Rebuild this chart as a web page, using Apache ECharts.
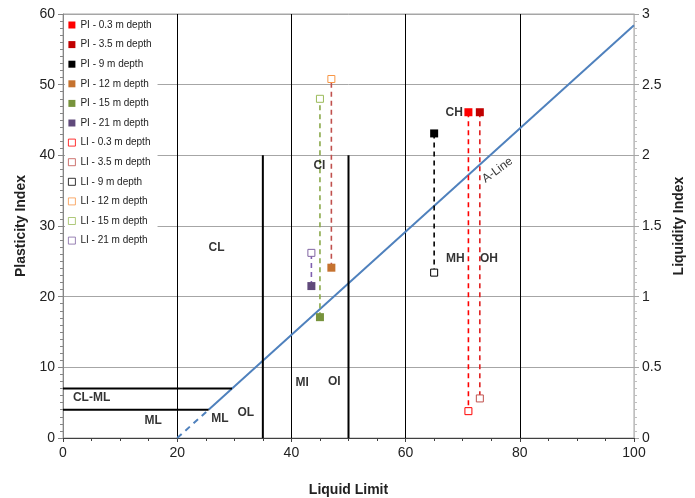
<!DOCTYPE html>
<html>
<head>
<meta charset="utf-8">
<script src="https://cdn.jsdelivr.net/npm/echarts@6/dist/echarts.min.js"></script>
<style>
  html, body { margin: 0; padding: 0; background: #fff; }
  #chart { width: 695px; height: 498px; }
</style>
</head>
<body>
<div id="chart"></div>
<script>
// sample depths
const depths = ['0.3', '3.5', '9', '12', '15', '21']
const liquidLimit = [71, 73, 65, 47, 45, 43.5]
const plasticityIndex = [46.1, 46.1, 43.1, 24.1, 17.1, 21.5]
const liquidityIndex = [0.19, 0.28, 1.17, 2.54, 2.40, 1.31]

// plasticity chart boundaries (liquid limit, plasticity index)
const aLineDashed = [[20, 0], [25.5, 4]]
const aLineSolid = [[25.5, 4], [100, 58.4]]
const boundaries = [
  [[35, 0], [35, 40]],
  [[50, 0], [50, 40]],
  [[0, 7], [29.6, 7]],
  [[0, 4], [25.5, 4]]
]

// zone labels
const zoneNames = ['CL', 'CL-ML', 'ML', 'ML', 'OL', 'MI', 'OI', 'CI', 'CH', 'MH', 'OH']
const zoneLL = [26.9, 5.0, 15.8, 27.5, 32.0, 41.9, 47.5, 44.9, 68.5, 68.7, 74.6]
const zonePI = [26.9, 5.7, 2.4, 2.7, 3.6, 7.8, 7.9, 38.5, 46.1, 25.4, 25.4]

const piColors = ['#ff0000', '#c00000', '#000000', '#c5722f', '#77933c', '#604a7b']
const liColors = ['#ff0000', '#c0504d', '#000000', '#f79646', '#9bbb59', '#8064a2']
const linkColors = ['#ff0000', '#e02424', '#000000', '#c0504d', '#8aa84a', '#7f5fb0']

const font = 'Arial, "Liberation Sans", sans-serif'
const series = []

// A-line
series.push({
  type: 'line', data: aLineDashed, symbol: 'none', silent: true,
  lineStyle: {color: '#4f81bd', width: 2, type: [6, 5]}
})
series.push({
  type: 'line', data: aLineSolid, symbol: 'none', silent: true,
  lineStyle: {color: '#4f81bd', width: 2}
})
boundaries.forEach(b => {
  series.push({
    type: 'line', data: b, symbol: 'none', silent: true,
    lineStyle: {color: '#000', width: 2}
  })
})

// dashed links PI -> LI (LI drawn on PI scale: 1 LI = 20 PI)
depths.forEach((d, i) => {
  series.push({
    type: 'line', symbol: 'none', silent: true, z: 3,
    data: [[liquidLimit[i], plasticityIndex[i]], [liquidLimit[i], liquidityIndex[i] * 20]],
    lineStyle: {color: linkColors[i], width: 1.6, type: [5, 4]}
  })
})

depths.forEach((d, i) => {
  series.push({
    name: 'PI - ' + d + ' m depth', type: 'scatter', z: 5,
    symbol: 'rect', symbolSize: 8,
    data: [[liquidLimit[i], plasticityIndex[i]]],
    itemStyle: {color: piColors[i], opacity: 1}
  })
})
depths.forEach((d, i) => {
  series.push({
    name: 'LI - ' + d + ' m depth', type: 'scatter', z: 5, yAxisIndex: 1,
    symbol: 'rect', symbolSize: 7,
    data: [[liquidLimit[i], liquidityIndex[i]]],
    itemStyle: {color: '#fff', borderColor: liColors[i], borderWidth: 1, opacity: 1}
  })
})

// zone labels
series.push({
  type: 'scatter', symbolSize: 0, silent: true, z: 6,
  data: zoneNames.map((n, i) => ({name: n, value: [zoneLL[i], zonePI[i]]})),
  label: {
    show: true, position: 'inside', formatter: p => p.name,
    color: '#000', fontWeight: 'bold', fontSize: 12, fontFamily: font
  }
})
series.push({
  type: 'scatter', symbolSize: 0, silent: true, z: 6,
  data: [{name: 'A-Line', value: [76.1, 37.9]}],
  label: {
    show: true, position: 'inside', formatter: p => p.name, rotate: 36,
    color: '#000', fontSize: 12, fontFamily: font
  }
})

const legendNames = depths.map(d => 'PI - ' + d + ' m depth').concat(depths.map(d => 'LI - ' + d + ' m depth'))

const chart = echarts.init(document.getElementById('chart'), null, {renderer: 'canvas'})
chart.setOption({
  animation: false,
  textStyle: {fontFamily: font},
  grid: {
    left: 63, right: 61, top: 14, bottom: 60, show: true, borderColor: '#a6a6a6', borderWidth: 1,
    outerBoundsMode: 'none', containLabel: false
  },
  legend: {
    data: legendNames, orient: 'vertical', left: 65, top: 16,
    itemWidth: 7, itemHeight: 7, itemGap: 7.6,
    itemStyle: {borderWidth: 0.8},
    backgroundColor: '#fff', padding: [3, 6, 3, 3],
    textStyle: {fontSize: 10, color: '#222', lineHeight: 12, fontFamily: font}
  },
  xAxis: {
    type: 'value', min: 0, max: 100, interval: 20,
    name: 'Liquid Limit', nameLocation: 'middle', nameGap: 45,
    nameTextStyle: {fontSize: 14, fontWeight: 'bold', color: '#222', fontFamily: font},
    axisLine: {lineStyle: {color: '#404040'}},
    axisTick: {lineStyle: {color: '#404040'}, length: 4},
    minorTick: {show: true, splitNumber: 4, length: 3, lineStyle: {color: '#404040'}},
    axisLabel: {fontSize: 14, color: '#222', margin: 8},
    splitLine: {lineStyle: {color: '#000', width: 1}}
  },
  yAxis: [{
    type: 'value', min: 0, max: 60, interval: 10,
    name: 'Plasticity Index', nameLocation: 'middle', nameGap: 30,
    nameTextStyle: {fontSize: 14, fontWeight: 'bold', color: '#222', fontFamily: font},
    axisLine: {show: true, lineStyle: {color: '#868686'}},
    axisTick: {show: true, lineStyle: {color: '#868686'}, length: 5},
    minorTick: {show: true, splitNumber: 10, length: 3, lineStyle: {color: '#868686'}},
    axisLabel: {fontSize: 14, color: '#222', margin: 8},
    splitLine: {lineStyle: {color: '#a6a6a6'}}
  }, {
    type: 'value', min: 0, max: 3, interval: 0.5,
    name: 'Liquidity Index', nameLocation: 'middle', nameGap: 38,
    nameTextStyle: {fontSize: 14, fontWeight: 'bold', color: '#222', fontFamily: font},
    axisLine: {show: true, lineStyle: {color: '#bfbfbf'}},
    axisTick: {show: true, lineStyle: {color: '#a6a6a6'}, length: 5},
    minorTick: {show: true, splitNumber: 10, length: 3, lineStyle: {color: '#bfbfbf'}},
    axisLabel: {fontSize: 14, color: '#222', margin: 8},
    splitLine: {show: false}
  }],
  series: series
})
</script>
</body>
</html>
